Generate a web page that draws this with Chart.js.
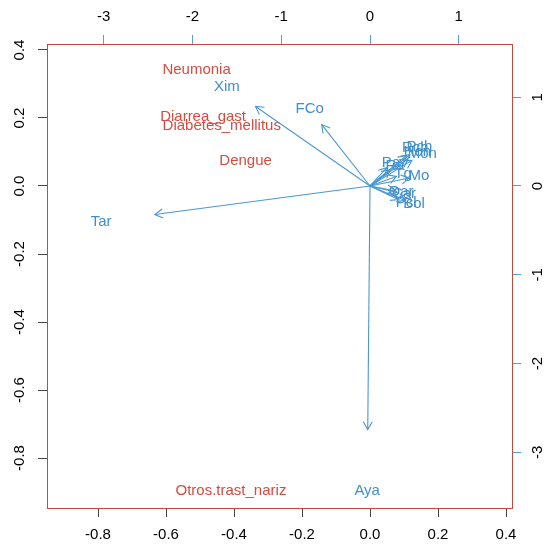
<!DOCTYPE html>
<html>
<head>
<meta charset="utf-8">
<script src="https://cdn.jsdelivr.net/npm/chart.js@4.4.1/dist/chart.umd.min.js"></script>
<style>
  html, body { margin: 0; padding: 0; background: #fff; }
  #wrap { width: 545px; height: 546px; }
</style>
</head>
<body>
<div id="wrap"><canvas id="biplot"></canvas></div>
<script>
// Observation scores (bottom / left axes)
const obsNames = ['Neumonia', 'Diarrea_gast', 'Diabetes_mellitus', 'Dengue', 'Otros.trast_nariz'];
const obsX = [-0.510, -0.491, -0.436, -0.366, -0.409];
const obsY = [0.343, 0.204, 0.176, 0.074, -0.896];

// Variable loadings (top / right axes), label positions
const varNames = ['Xim', 'FCo', 'Tar', 'Aya', 'Pch', 'Rch', 'Hon', 'Mon', 'Pa', 'Ra', 'Tg', 'Mo', 'Oar', 'Car', 'Pcl', 'Bol'];
const varX = [-1.612, -0.680, -3.030, -0.032, 0.556, 0.511, 0.534, 0.590, 0.237, 0.282, 0.372, 0.551, 0.350, 0.383, 0.406, 0.496];
const varY = [1.120, 0.865, -0.402, -3.430, 0.440, 0.428, 0.383, 0.361, 0.259, 0.225, 0.135, 0.113, -0.068, -0.090, -0.192, -0.203];

// Tick labels
const bottomTicks = [-0.8, -0.6, -0.4, -0.2, 0.0, 0.2, 0.4];
const leftTicks = [-0.8, -0.6, -0.4, -0.2, 0.0, 0.2, 0.4];
const topTicks = [-3, -2, -1, 0, 1];
const rightTicks = [-3, -2, -1, 0, 1];

// Axis limits (scores) and ratio to the loading axes
const xLim = [-0.95, 0.4176];
const yLim = [-0.947, 0.4176];
const ratio = 3.831;
const arrowShrink = 0.8; // biplot draws arrows at 0.8 of the loading

const red = '#D64B40';
const boxRed = '#C04A40';
const blue = '#3F8FCC';
const arrowBlue = '#4A98D2';
const fontFamily = "'Liberation Sans', Arial, Helvetica, sans-serif";
const fontSize = 15;

// One line dataset per arrow
const arrowSets = varNames.map(function(name, i) {
    return {
        label: name,
        data: [{ x: 0, y: 0 }, { x: varX[i] * arrowShrink, y: varY[i] * arrowShrink }],
        xAxisID: 'x2',
        yAxisID: 'y2',
        showLine: true,
        borderColor: arrowBlue,
        borderWidth: 1.1,
        pointRadius: 0,
        fill: false
    };
});

function fixedTicks(list) {
    return function(scale) {
        scale.ticks = list.map(function(v) { return { value: v }; });
    };
}

// Text labels for observations and variables
const textLabels = {
    id: 'textLabels',
    beforeDatasetsDraw(chart) {
        const ctx = chart.ctx;
        const s = chart.scales;
        ctx.save();
        ctx.font = fontSize + 'px ' + fontFamily;
        ctx.textAlign = 'center';
        ctx.textBaseline = 'middle';
        ctx.fillStyle = red;
        obsNames.forEach(function(name, i) {
            ctx.fillText(name, s.x.getPixelForValue(obsX[i]), s.y.getPixelForValue(obsY[i]));
        });
        ctx.fillStyle = blue;
        varNames.forEach(function(name, i) {
            ctx.fillText(name, s.x2.getPixelForValue(varX[i]), s.y2.getPixelForValue(varY[i]));
        });
        ctx.restore();
    }
};

// Open arrow heads at the end of each line
const arrowHeads = {
    id: 'arrowHeads',
    afterDatasetsDraw(chart) {
        const ctx = chart.ctx;
        ctx.save();
        ctx.strokeStyle = arrowBlue;
        ctx.lineWidth = 1.1;
        chart.data.datasets.forEach(function(ds, i) {
            const pts = chart.getDatasetMeta(i).data;
            const a = pts[0], b = pts[1];
            const ang = Math.atan2(b.y - a.y, b.x - a.x);
            const len = 9, spread = Math.PI / 6;
            ctx.beginPath();
            ctx.moveTo(b.x - len * Math.cos(ang - spread), b.y - len * Math.sin(ang - spread));
            ctx.lineTo(b.x, b.y);
            ctx.lineTo(b.x - len * Math.cos(ang + spread), b.y - len * Math.sin(ang + spread));
            ctx.stroke();
        });
        ctx.restore();
    }
};

// Vertical axes labels are rotated as in R
const rotatedLabels = {
    id: 'rotatedLabels',
    afterDraw(chart) {
        const ctx = chart.ctx;
        ctx.save();
        ctx.font = fontSize + 'px ' + fontFamily;
        ctx.fillStyle = '#000';
        ctx.textAlign = 'center';
        ctx.textBaseline = 'middle';
        [['y', 20, function(v) { return v.toFixed(1); }],
         ['y2', 537.5, function(v) { return String(v); }]].forEach(function(item) {
            const scale = chart.scales[item[0]];
            scale.ticks.forEach(function(t) {
                ctx.save();
                ctx.translate(item[1], scale.getPixelForValue(t.value));
                ctx.rotate(-Math.PI / 2);
                ctx.fillText(item[2](t.value), 0, 0);
                ctx.restore();
            });
        });
        ctx.restore();
    }
};

const ctx = document.getElementById('biplot').getContext('2d');
new Chart(ctx, {
    type: 'scatter',
    data: { datasets: arrowSets },
    options: {
        responsive: true,
        maintainAspectRatio: false,
        animation: false,
        layout: { padding: 0 },
        plugins: {
            legend: { display: false },
            tooltip: { enabled: false }
        },
        scales: {
            x: {
                type: 'linear',
                position: 'bottom',
                min: xLim[0],
                max: xLim[1],
                afterBuildTicks: fixedTicks(bottomTicks),
                afterFit: function(s) { s.height = 38; },
                border: { display: true, color: boxRed, width: 1 },
                grid: { drawOnChartArea: false, drawTicks: true, tickLength: 9, color: '#444' },
                ticks: {
                    color: '#000',
                    padding: 9,
                    maxRotation: 0,
                    font: { family: fontFamily, size: fontSize },
                    callback: function(v) { return v.toFixed(1); }
                }
            },
            x2: {
                type: 'linear',
                position: 'top',
                min: xLim[0] * ratio,
                max: xLim[1] * ratio,
                afterBuildTicks: fixedTicks(topTicks),
                afterFit: function(s) { s.height = 44; },
                border: { display: true, color: boxRed, width: 1 },
                grid: { drawOnChartArea: false, drawTicks: true, tickLength: 9, color: '#5AA0D8' },
                ticks: {
                    color: '#000',
                    padding: 9,
                    maxRotation: 0,
                    font: { family: fontFamily, size: fontSize },
                    callback: function(v) { return String(v); }
                }
            },
            y: {
                type: 'linear',
                position: 'left',
                min: yLim[0],
                max: yLim[1],
                afterBuildTicks: fixedTicks(leftTicks),
                afterFit: function(s) { s.width = 47; },
                border: { display: true, color: boxRed, width: 1 },
                grid: { drawOnChartArea: false, drawTicks: true, tickLength: 9, color: '#444' },
                ticks: { color: 'rgba(0,0,0,0)', font: { family: fontFamily, size: fontSize } }
            },
            y2: {
                type: 'linear',
                position: 'right',
                min: yLim[0] * ratio,
                max: yLim[1] * ratio,
                afterBuildTicks: fixedTicks(rightTicks),
                afterFit: function(s) { s.width = 33; },
                border: { display: true, color: boxRed, width: 1 },
                grid: { drawOnChartArea: false, drawTicks: true, tickLength: 9, color: '#5AA0D8' },
                ticks: { color: 'rgba(0,0,0,0)', font: { family: fontFamily, size: fontSize } }
            }
        }
    },
    plugins: [textLabels, arrowHeads, rotatedLabels]
});
</script>
</body>
</html>
